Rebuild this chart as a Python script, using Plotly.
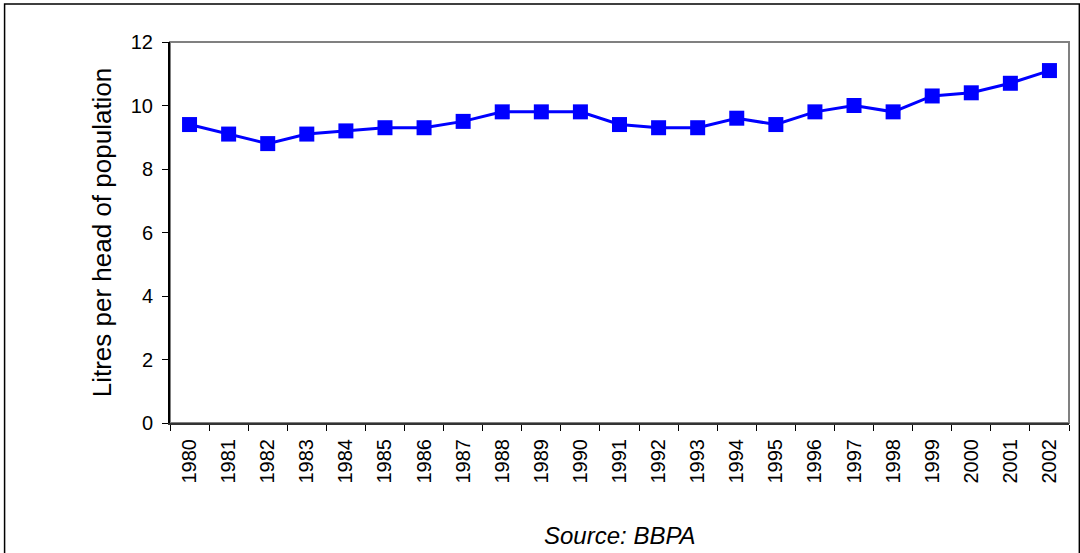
import plotly.graph_objects as go

years = [str(y) for y in range(1980, 2003)]
litres = [9.4, 9.1, 8.8, 9.1, 9.2, 9.3, 9.3, 9.5, 9.8, 9.8, 9.8, 9.4, 9.3, 9.3,
          9.6, 9.4, 9.8, 10.0, 9.8, 10.3, 10.4, 10.7, 11.1]
y_ticks = [0, 2, 4, 6, 8, 10, 12]

FONT = "Liberation Sans, Arial, sans-serif"

fig = go.Figure()
fig.add_trace(go.Scatter(
    x=years, y=litres, mode="lines+markers",
    line=dict(color="#0000FF", width=3),
    marker=dict(symbol="square", size=15, color="#0000FF"),
    showlegend=False,
))

# plot-area frame (grey) and outer chart border
fig.add_shape(type="rect", xref="paper", yref="paper", x0=0, x1=1, y0=0, y1=1,
              line=dict(color="#808080", width=2), layer="below")
fig.add_shape(type="rect", xref="paper", yref="paper",
              x0=-0.184, x1=1.0115, y0=-0.4, y1=1.1,
              line=dict(color="#000000", width=1.5))

fig.add_annotation(text="<i>Source: BBPA</i>", xref="paper", yref="paper",
                   x=0.5, y=-0.295, yanchor="middle", showarrow=False,
                   font=dict(family=FONT, size=24, color="#000000"))

fig.update_layout(
    width=1080, height=553,
    margin=dict(l=170, r=11, t=42, b=130),
    paper_bgcolor="white", plot_bgcolor="white",
    font=dict(family=FONT, size=20, color="#000000"),
)
fig.update_xaxes(
    type="category", range=[-0.5, 22.5], tickangle=-90,
    tickson="boundaries", ticks="outside", ticklen=6, tickcolor="#000000",
    showline=True, linecolor="#333333", linewidth=2, showgrid=False,
    tickfont=dict(size=20), ticklabelstandoff=6,
)
fig.update_yaxes(
    range=[0, 12], tickvals=y_ticks, ticks="outside", ticklen=6,
    tickcolor="#000000", showline=True, linecolor="#000000", linewidth=2,
    showgrid=False, zeroline=False, tickfont=dict(size=20), ticklabelstandoff=5,
    title=dict(text="Litres per head of population", font=dict(size=26), standoff=12),
)

fig.write_html("out.html", config={"displayModeBar": False},
               post_script="document.body.style.margin='0';")
